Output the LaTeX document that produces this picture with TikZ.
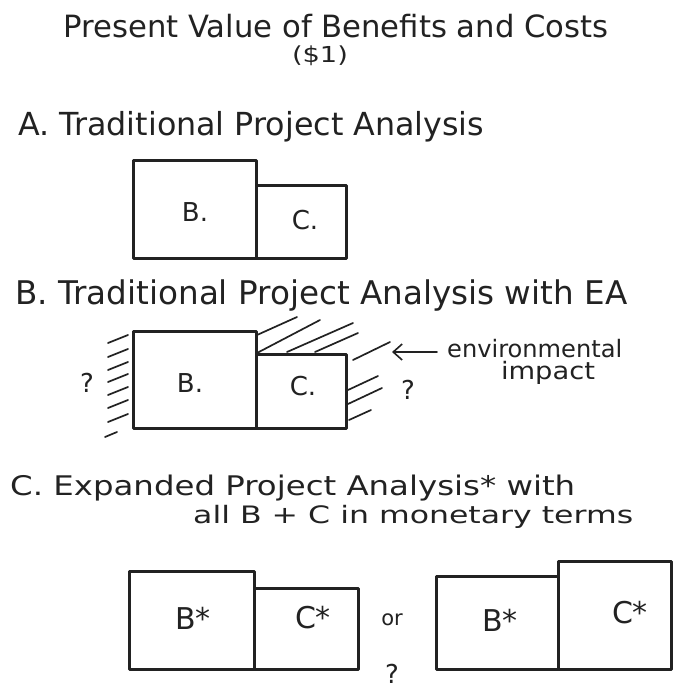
\documentclass[tikz,border=0pt]{standalone}
\usepackage{fontspec}
\setmainfont{DejaVu Sans}
\usetikzlibrary{arrows.meta}
\definecolor{ink}{HTML}{222222}
\newcommand{\fitw}[2]{\resizebox{#1pt}{!}{#2}}
\newcommand{\fitx}[3]{\resizebox{#1pt}{\height}{\fontsize{#2}{#2}\selectfont #3}}
\begin{document}
\begin{tikzpicture}[x=1pt,y=-1pt,
  every node/.style={inner sep=0pt, text=ink},
  box/.style={draw=ink, line width=2.8pt, anchor=north west, inner sep=0pt, line join=round},
  hatch/.style={draw=ink, line width=1.7pt, line cap=round},
  lbl/.style={font=\fontsize{26}{26}\selectfont},
  lblstar/.style={font=\fontsize{30}{30}\selectfont},
  qmark/.style={font=\fontsize{26}{26}\selectfont},
  head/.style={anchor=base west},
  pointer/.style={draw=ink, line width=1.6pt, line cap=round, -{Straight Barb[length=9pt,width=16pt,line width=1.6pt]}}]
\useasboundingbox[fill=white] (0,0) rectangle (673,689);

% title
\node[anchor=base] (title) at (336,37) {\fitw{545}{Present Value of Benefits and Costs}};
\node[anchor=base] (unit) at (320,62) {\fitx{56}{22}{(\$1)}};

% ---------- A ----------
\node[head] (hA) at (18,135) {\fitw{466}{A. Traditional Project Analysis}};
\node[box, minimum width=123pt, minimum height=98pt] (aB) at (132,159) {};
\node[box, minimum width=90pt, minimum height=73pt] (aC) at (255,184) {};
\node[lbl] (aBl) at (195,212) {B.};
\node[lbl] (aCl) at (305,220) {C.};

% ---------- B ----------
\node[head] (hB) at (15,304) {\fitw{612}{B. Traditional Project Analysis with EA}};
\node[box, minimum width=123pt, minimum height=97pt] (bB) at (132,330) {};
\node[box, minimum width=90pt, minimum height=74pt] (bC) at (255,353) {};
\node[lbl] (bBl) at (190,383) {B.};
\node[lbl] (bCl) at (303,386) {C.};
\node[qmark] (bq1) at (87,383) {?};
\node[qmark] (bq2) at (408,390) {?};

% hatching left
\foreach \yy in {338,352,365,377,390,403,417}
  \draw[hatch] (108,\yy+5) -- (128,\yy-3);
\draw[hatch] (105,437) -- (117,432);
% hatching above C
\draw[hatch] (257,335) -- (297,317);
\draw[hatch] (257,353) -- (320,320);
\draw[hatch] (287,352) -- (353,323);
\draw[hatch] (315,352) -- (358,333);
\draw[hatch] (353,360) -- (390,342);
% hatching right of C
\draw[hatch] (348,390) -- (378,376);
\draw[hatch] (348,404) -- (382,388);
\draw[hatch] (349,420) -- (371,410);

% annotation
\node[head] (env) at (447,357) {\fitx{175}{24}{environmental}};
\node[anchor=base] (imp) at (548,379) {\fitx{94}{24}{impact}};
\coordinate (arrTail) at (437,352);
\coordinate (arrTip) at (392,352);
\draw[pointer] (arrTail) -- (arrTip);

% ---------- C ----------
\node[head] (hC1) at (10,495) {\fitx{565}{27}{C. Expanded Project Analysis* with}};
\node[head] (hC2) at (193,523) {\fitx{440}{24}{all B + C in monetary terms}};

\node[box, minimum width=125pt, minimum height=98pt] (cB1) at (128,570) {};
\node[box, minimum width=104pt, minimum height=81pt] (cC1) at (253,587) {};
\node[lblstar] (cB1l) at (193,618) {B*};
\node[lblstar] (cC1l) at (313,618) {C*};
\node[font=\fontsize{21}{21}\selectfont] (orw) at (392,620) {or};
\node[qmark] (cq) at (392,674) {?};

\node[box, minimum width=122pt, minimum height=93pt] (cB2) at (435,575) {};
\node[box, minimum width=113pt, minimum height=108pt] (cC2) at (557,560) {};
\node[lblstar] (cB2l) at (500,620) {B*};
\node[lblstar] (cC2l) at (630,613) {C*};
\end{tikzpicture}
\end{document}
